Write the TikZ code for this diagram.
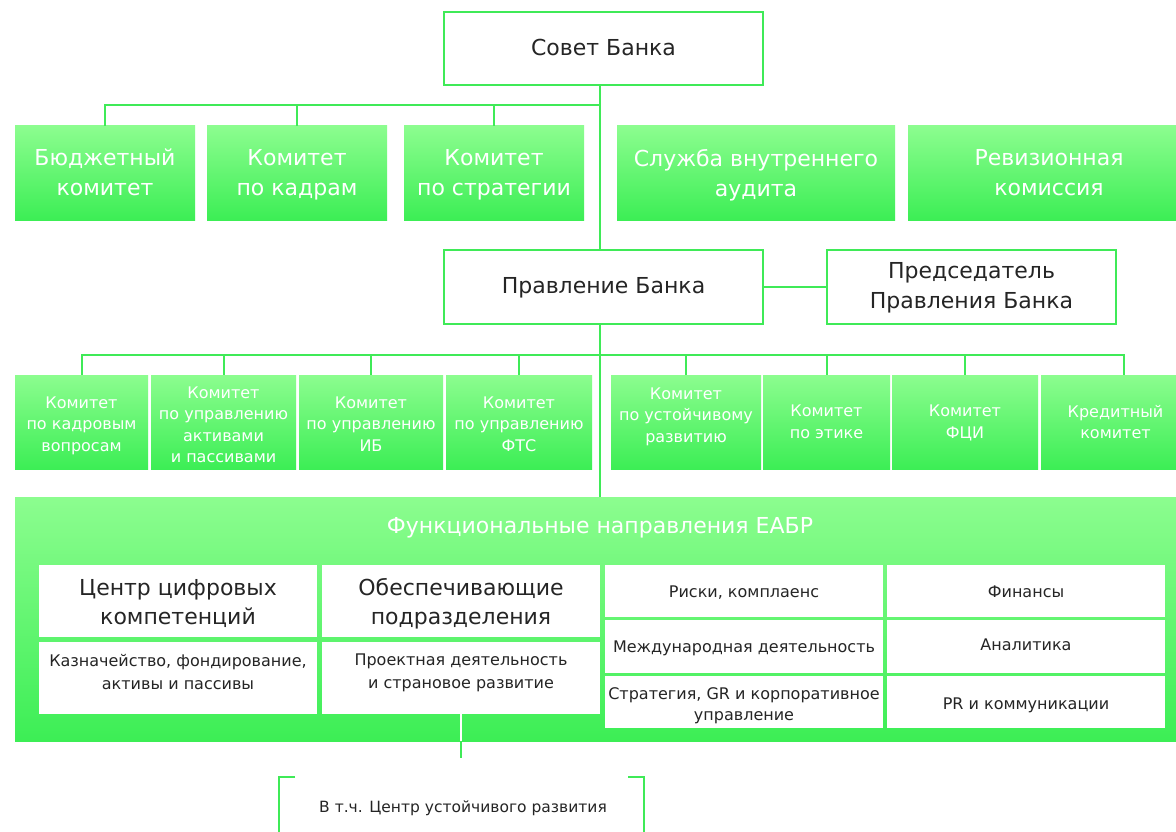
\documentclass[tikz,border=0pt]{standalone}
\usepackage{fontspec}
\setmainfont{DejaVu Sans}
\definecolor{lg}{HTML}{3FEA57}
\definecolor{gtop}{HTML}{8CFD8F}
\definecolor{gbot}{HTML}{3CEE55}
\definecolor{txt}{HTML}{252525}
\newcommand\mkbox[9]{%
  \pgfmathsetmacro\bcx{(#3+#5)/2}\pgfmathsetmacro\bcy{(#4+#6)/2}%
  \pgfmathsetmacro\bww{#5-#3}\pgfmathsetmacro\bhh{#6-#4}%
  \node[#2, minimum width=\bww pt, minimum height=\bhh pt] (#1) at (\bcx,\bcy) {};
  \node[#7] (#1t) at ([yshift=-#8pt]#1.center) {#9};}
\begin{document}
\begin{tikzpicture}[x=1pt,y=-1pt,
  wbox/.style={draw=lg, line width=2pt, fill=white, inner sep=0pt},
  gbox/.style={top color=gtop, bottom color=gbot, inner sep=0pt},
  cell/.style={fill=white, inner sep=0pt},
  tx/.style={inner sep=0pt, align=center, execute at begin node=\strut, execute at end node=\strut},
  gt/.style={tx, text=white},
  wt/.style={tx, text=txt},
  conn/.style={draw=lg, line width=2pt},
  fbig/.style={font=\fontsize{22}{30}\selectfont},
  fmid/.style={font=\fontsize{16}{21.5}\selectfont},
  ftitle/.style={font=\fontsize{22}{29}\selectfont},
  fsmall/.style={font=\fontsize{16}{23}\selectfont},
  ftab/.style={font=\fontsize{16}{21}\selectfont}]
\useasboundingbox (0,0) rectangle (1176,832);
\fill[white] (0,0) rectangle (1176,832);
% top level
\mkbox{sovet}{wbox}{444}{12}{763}{85}{wt,fbig}{1}{Совет Банка}
\mkbox{b1}{gbox}{15}{126}{195}{220}{gt,fbig}{4}{Бюджетный\\комитет}
\mkbox{b2}{gbox}{207}{126}{387}{220}{gt,fbig}{4}{Комитет\\по кадрам}
\mkbox{b3}{gbox}{404}{126}{584}{220}{gt,fbig}{4}{Комитет\\по стратегии}
\mkbox{b4}{gbox}{617}{126}{895}{220}{gt,fbig}{4}{Служба внутреннего\\аудита}
\mkbox{b5}{gbox}{908}{126}{1190}{220}{gt,fbig}{4}{Ревизионная\\комиссия}
\mkbox{pravl}{wbox}{444}{250}{763}{324}{wt,fbig}{0}{Правление Банка}
\mkbox{pred}{wbox}{827}{250}{1116}{324}{wt,fbig}{3}{Председатель\\Правления Банка}
% second row
\mkbox{c1}{gbox}{15}{375}{148}{469}{gt,fmid}{5}{Комитет\\по кадровым\\вопросам}
\mkbox{c2}{gbox}{151}{375}{296}{469}{gt,fmid}{6}{Комитет\\по управлению\\активами\\и пассивами}
\mkbox{c3}{gbox}{299}{375}{443}{469}{gt,fmid}{5}{Комитет\\по управлению\\ИБ}
\mkbox{c4}{gbox}{446}{375}{592}{469}{gt,fmid}{5}{Комитет\\по управлению\\ФТС}
\mkbox{c5}{gbox}{611}{375}{761}{469}{gt,fmid}{-4}{Комитет\\по устойчивому\\развитию}
\mkbox{c6}{gbox}{763}{375}{890}{469}{gt,fmid}{3}{Комитет\\по этике}
\mkbox{c7}{gbox}{892}{375}{1038}{469}{gt,fmid}{3}{Комитет\\ФЦИ}
\mkbox{c8}{gbox}{1041}{375}{1190}{469}{gt,fmid}{3}{Кредитный\\комитет}
% functional block
\mkbox{func}{gbox}{15}{497}{1190}{741}{tx}{0}{}
\node[gt, ftitle] (ftit) at (600,528) {Функциональные направления ЕАБР};
\mkbox{d1}{cell}{39}{565}{317}{637}{wt,ftitle}{5}{Центр цифровых\\компетенций}
\mkbox{d2}{cell}{322}{565}{600}{637}{wt,ftitle}{5}{Обеспечивающие\\подразделения}
\mkbox{d3}{cell}{39}{642}{317}{714}{wt,fsmall}{-3}{Казначейство, фондирование,\\активы и пассивы}
\mkbox{d4}{cell}{322}{642}{600}{714}{wt,fsmall}{-3}{Проектная деятельность\\и страновое развитие}
\mkbox{e1}{cell}{605}{565}{883}{617}{wt,ftab}{2}{Риски, комплаенс}
\mkbox{e2}{cell}{887}{565}{1165}{617}{wt,ftab}{2}{Финансы}
\mkbox{e3}{cell}{605}{620}{883}{673}{wt,ftab}{2}{Международная деятельность}
\mkbox{e4}{cell}{887}{620}{1165}{673}{wt,ftab}{0}{Аналитика}
\mkbox{e5}{cell}{605}{676}{883}{728}{wt,ftab}{5}{Стратегия, GR и корпоративное\\управление}
\mkbox{e6}{cell}{887}{676}{1165}{728}{wt,ftab}{3}{PR и коммуникации}
% bottom note with open bracket
\node[wt, font=\fontsize{15.5}{18}\selectfont] (csr) at (463,809) {В т.ч. Центр устойчивого развития};
\coordinate (brk) at (461,758);
\coordinate (tl) at (279,777);
\coordinate (tr) at (644,777);
\draw[conn] ([xshift=16pt]tl) -- (tl) -- (tl |- 0,840);
\draw[conn] ([xshift=-16pt]tr) -- (tr) -- (tr |- 0,840);
% connectors
\coordinate (bus1) at (600,105);
\coordinate (bus2) at (600,355);
\draw[conn] (sovet.south -| 600,0) -- (pravl.north -| 600,0);
\draw[conn] (pravl.south -| 600,0) -- (func.north -| 600,0);
\foreach \n in {b1,b2,b3} \draw[conn] (\n.north) |- (bus1);
\foreach \n in {c1,c2,c3,c4,c5,c6,c7} \draw[conn] (\n.north) |- (bus2);
\draw[conn] ([xshift=8pt]c8.north) |- (bus2);
\draw[conn] (pravl.east) -- (pred.west);
\draw[white, line width=2pt] (d4.south) -- (d4.south |- func.south);
\draw[conn] (d4.south |- func.south) -- (brk);
\end{tikzpicture}
\end{document}
